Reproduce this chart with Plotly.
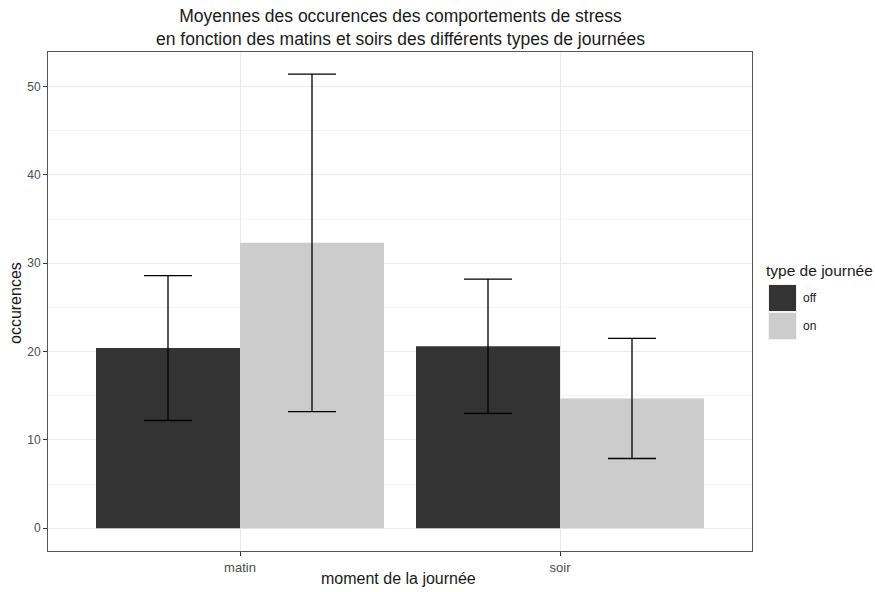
import plotly.graph_objects as go

categories = ["matin", "soir"]
series_names = ["off", "on"]
off_means = [20.4, 20.6]
off_err = [8.2, 7.6]
on_means = [32.3, 14.7]
on_err = [19.1, 6.8]
colors = {"off": "#333333", "on": "#CCCCCC"}
y_ticks = [0, 10, 20, 30, 40, 50]

W, H = 875, 592
L, R, T, B = 48, 752, 52, 551  # panel edges in pixels

fig = go.Figure()
for name, means, errs in [("off", off_means, off_err), ("on", on_means, on_err)]:
    fig.add_trace(go.Bar(
        x=categories, y=means, name=name,
        marker=dict(color=colors[name], line=dict(width=0)),
        error_y=dict(type="data", array=errs, visible=True, color="black",
                     thickness=1.3, width=24),
        showlegend=False,
    ))

FONT = "Liberation Sans, Arial, sans-serif"
fig.update_layout(
    width=W, height=H,
    barmode="group", bargap=0.1, bargroupgap=0,
    paper_bgcolor="white", plot_bgcolor="white",
    margin=dict(l=L, r=W - R, t=T, b=H - B, autoexpand=False),
    font=dict(family=FONT, color="#4D4D4D", size=11),
    xaxis=dict(
        range=[-0.6, 1.6], showgrid=True, gridcolor="#EBEBEB", gridwidth=1,
        showline=True, linecolor="#555555", linewidth=1, mirror=True,
        ticks="outside", ticklen=4, tickcolor="#333333",
        tickfont=dict(size=13, color="#4D4D4D"),
        automargin=False, zeroline=False,
    ),
    yaxis=dict(
        range=[-2.57, 53.9], tickvals=y_ticks, showgrid=True, gridcolor="#EBEBEB", gridwidth=1,
        minor=dict(tickvals=[5, 15, 25, 35, 45], showgrid=True, gridcolor="#F4F4F4", gridwidth=0.6, ticks=""),
        showline=True, linecolor="#555555", linewidth=1, mirror=True,
        ticks="outside", ticklen=4, tickcolor="#333333",
        tickfont=dict(size=12, color="#4D4D4D"),
        automargin=False, zeroline=False,
    ),
)

def px(x):
    return (x - L) / (R - L)
def py(y):
    return (B - y) / (B - T)

# Title
fig.add_annotation(x=px(400), y=py(28), xref="paper", yref="paper",
                   text="Moyennes des occurences des comportements de stress<br>en fonction des matins et soirs des différents types de journées",
                   showarrow=False, xanchor="center", yanchor="middle",
                   font=dict(family=FONT, size=17.5, color="#1A1A1A"))
# Axis titles
fig.add_annotation(x=px(398), y=py(578), xref="paper", yref="paper",
                   text="moment de la journée", showarrow=False,
                   xanchor="center", yanchor="middle",
                   font=dict(family=FONT, size=16, color="#1A1A1A"))
fig.add_annotation(x=px(15), y=py(303), xref="paper", yref="paper",
                   text="occurences", showarrow=False, textangle=-90,
                   xanchor="center", yanchor="middle",
                   font=dict(family=FONT, size=16, color="#1A1A1A"))

# Legend drawn manually in ggplot style
fig.add_annotation(x=px(764), y=py(270), xref="paper", yref="paper", text="type de journée",
                   showarrow=False, xanchor="left", yanchor="middle",
                   font=dict(family=FONT, size=15.5, color="#1A1A1A"))
for i, name in enumerate(series_names):
    y0 = 284 + i * 28
    fig.add_shape(type="rect", xref="paper", yref="paper",
                  x0=px(768), x1=px(797), y0=py(y0 + 28), y1=py(y0),
                  fillcolor="#F2F2F2", line=dict(width=0))
    fig.add_shape(type="rect", xref="paper", yref="paper",
                  x0=px(769), x1=px(796), y0=py(y0 + 27), y1=py(y0 + 1),
                  fillcolor=colors[name], line=dict(width=0))
    fig.add_annotation(x=px(801), y=py(y0 + 14), xref="paper", yref="paper", text=name,
                       showarrow=False, xanchor="left", yanchor="middle",
                       font=dict(family=FONT, size=12, color="#1A1A1A"))

fig.write_html("out.html", config={"displayModeBar": False},
               post_script="document.body.style.margin='0';document.body.style.overflow='hidden';")
